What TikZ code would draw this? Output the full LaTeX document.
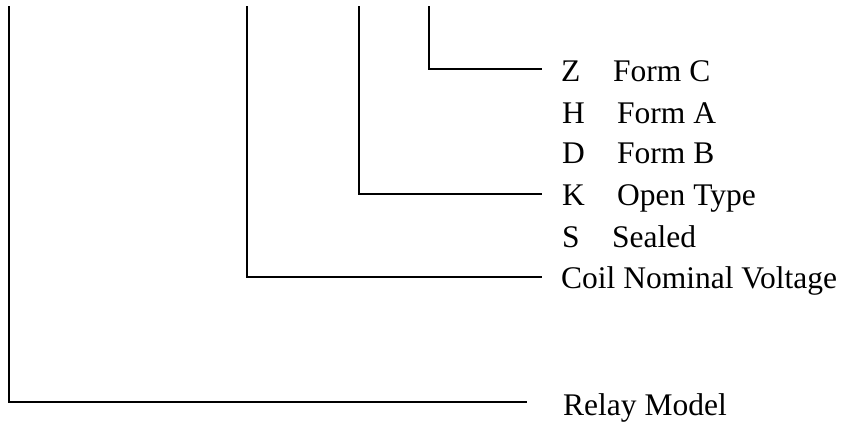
\documentclass[tikz,border=0pt]{standalone}
\usepackage{fontspec}
\setmainfont{Liberation Serif}
\begin{document}
\begin{tikzpicture}[x=1pt,y=-1pt,
  conn/.style={line width=2pt},
  lbl/.style={anchor=base west, inner sep=0pt, font=\fontsize{31.5}{38}\selectfont}]
\useasboundingbox (0,0) rectangle (845,423);
% labels
\node[lbl] (zk) at (561,81) {Z};
\node[lbl] (zd) at (613,81) {Form C};
\node[lbl] (hk) at (562,123) {H};
\node[lbl] (hd) at (617,123) {Form A};
\node[lbl] (dk) at (562,163) {D};
\node[lbl] (dd) at (617,163) {Form B};
\node[lbl] (kk) at (562,205) {K};
\node[lbl] (kd) at (617,205) {Open Type};
\node[lbl] (sk) at (562,247) {S};
\node[lbl] (sd) at (612,247) {Sealed};
\node[lbl] (coil) at (561,288) {Coil Nominal Voltage};
\node[lbl] (relay) at (563,415) {Relay Model};
% connector ends
\coordinate (ta) at (9,6);
\coordinate (tb) at (246.5,6);
\coordinate (tc) at (359,6);
\coordinate (td) at (429,6);
\coordinate (ez) at (541.5,69);
\coordinate (ek) at (541.5,194);
\coordinate (ec) at (541.5,277);
\coordinate (er) at (527,402);
\draw[conn] (td) |- (ez);
\draw[conn] (tc) |- (ek);
\draw[conn] (tb) |- (ec);
\draw[conn] (ta) |- (er);
\end{tikzpicture}
\end{document}
